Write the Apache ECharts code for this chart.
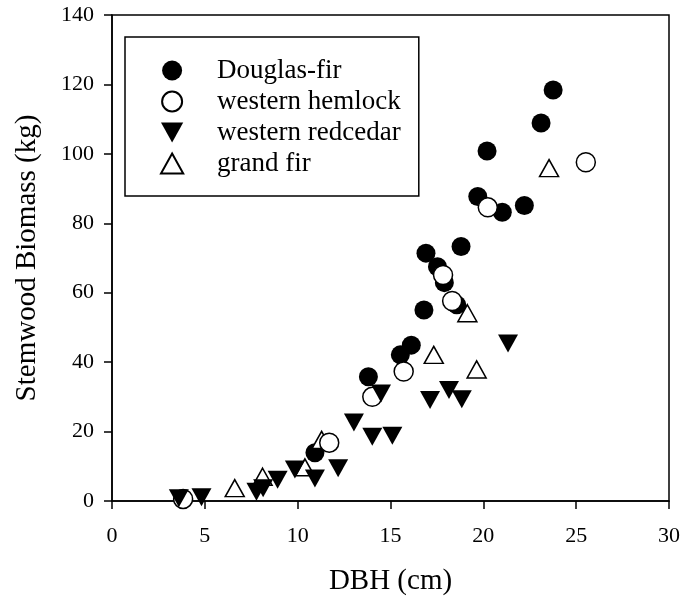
<!DOCTYPE html>
<html>
<head>
<meta charset="utf-8">
<script src="https://cdn.jsdelivr.net/npm/echarts@6/dist/echarts.min.js"></script>
<style>
  html, body { margin: 0; padding: 0; background: #fff; }
  #chart { width: 683px; height: 601px; }
</style>
</head>
<body>
<div id="chart"></div>
<script>
// Stem diameter (cm) vs stemwood biomass (kg), by species
const douglasFir = [
  [23.76, 118.4], [23.11, 108.9], [20.20, 100.8], [19.70, 87.7],
  [21.02, 83.2], [22.21, 85.1], [18.80, 73.3], [16.91, 71.4],
  [17.53, 67.5], [17.90, 62.9], [18.57, 56.5], [16.80, 55.0],
  [16.12, 44.9], [15.53, 42.1], [13.81, 35.8], [10.93, 13.9]
];
const westernHemlock = [
  [25.52, 97.6], [20.24, 84.6], [17.83, 65.1], [18.32, 57.6],
  [15.71, 37.3], [14.02, 30.0], [11.70, 16.8], [3.83, 0.6]
];
const westernRedcedar = [
  [21.33, 45.4], [18.15, 32.0], [17.13, 29.1], [18.84, 29.3],
  [14.49, 31.0], [13.03, 22.6], [14.02, 18.5], [15.10, 18.8],
  [12.18, 9.4], [10.93, 6.5], [9.85, 9.1], [8.92, 6.1],
  [8.14, 3.7], [7.78, 2.7], [4.82, 1.1], [3.60, 0.8]
];
const grandFir = [
  [23.54, 95.9], [19.14, 54.1], [17.33, 42.1], [19.64, 37.9],
  [11.29, 17.6], [10.39, 9.7], [8.11, 7.0], [6.61, 3.7]
];
const speciesNames = ['Douglas-fir', 'western hemlock', 'western redcedar', 'grand fir'];
const xTitle = 'DBH (cm)';
const yTitle = 'Stemwood Biomass (kg)';

const FONT = '"Liberation Serif", "Times New Roman", serif';
// Triangle markers as paths so the legend icons keep their proportions
const downTriangle = 'path://M0,0 L20,0 L10,18 Z';
const upTriangle = 'path://M10,0 L20,18 L0,18 Z';

const chart = echarts.init(document.getElementById('chart'), null, { renderer: 'canvas' });

const axisCommon = {
  axisLine: { show: true, lineStyle: { color: '#000', width: 1.5 } },
  axisTick: { show: true, inside: false, length: 8, lineStyle: { color: '#000', width: 1.5 } },
  splitLine: { show: false },
  nameLocation: 'middle',
  nameTextStyle: { fontFamily: FONT, fontSize: 29, color: '#000' }
};

chart.setOption({
  animation: false,
  backgroundColor: '#fff',
  grid: {
    left: 112, right: 14, top: 15, bottom: 100,
    show: true, borderColor: '#000', borderWidth: 1.5, backgroundColor: 'transparent'
  },
  xAxis: Object.assign({}, axisCommon, {
    type: 'value', min: 0, max: 30, interval: 5,
    name: xTitle, nameGap: 66,
    axisLabel: { fontFamily: FONT, fontSize: 22, color: '#000', margin: 24 }
  }),
  yAxis: Object.assign({}, axisCommon, {
    type: 'value', min: 0, max: 140, interval: 20,
    name: yTitle, nameGap: 70,
    axisLabel: { fontFamily: FONT, fontSize: 22, color: '#000', margin: 18 }
  }),
  legend: {
    data: speciesNames,
    orient: 'vertical',
    left: 125, top: 37,
    padding: [18, 18, 17, 35],
    itemWidth: 80, itemHeight: 20, itemGap: 0,
    symbolKeepAspect: true,
    borderColor: '#000', borderWidth: 1.5, backgroundColor: '#fff',
    textStyle: { fontFamily: FONT, fontSize: 27, color: '#000', lineHeight: 31 },
    selectedMode: false
  },
  series: [
    {
      name: speciesNames[0], type: 'scatter', data: douglasFir,
      symbol: 'circle', symbolSize: 19,
      itemStyle: { color: '#000', borderColor: '#000', borderWidth: 0, opacity: 1 }
    },
    {
      name: speciesNames[3], type: 'scatter', data: grandFir,
      symbol: upTriangle, symbolSize: [19, 17],
      itemStyle: { color: '#fff', borderColor: '#000', borderWidth: 1.5, opacity: 1 }
    },
    {
      name: speciesNames[1], type: 'scatter', data: westernHemlock,
      symbol: 'circle', symbolSize: 19,
      itemStyle: { color: '#fff', borderColor: '#000', borderWidth: 1.5, opacity: 1 }
    },
    {
      name: speciesNames[2], type: 'scatter', data: westernRedcedar,
      symbol: downTriangle, symbolSize: [20, 18],
      itemStyle: { color: '#000', borderColor: '#000', borderWidth: 0, opacity: 1 }
    }
  ]
});
</script>
</body>
</html>
